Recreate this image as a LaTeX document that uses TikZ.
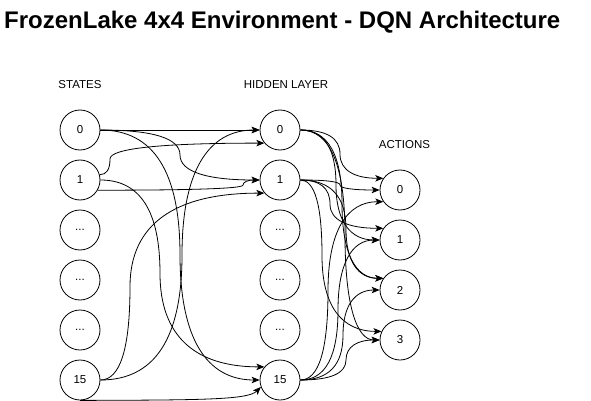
\documentclass[tikz,border=0pt]{standalone}
\usepackage{fontspec}
\setmainfont{Liberation Sans}
\usetikzlibrary{arrows.meta,calc}
\newcommand\qedge[4][]{%
  \draw[conn,#1] let \p1=(#2), \p2=(#4), \p3=(#3,0) in
    (\p1) .. controls ({(\x1+2*\x3)/3},\y1) and (\x3,{(5*\y1+\y2)/6}) .. (\x3,{(\y1+\y2)/2})
          .. controls (\x3,{(\y1+5*\y2)/6}) and ({(\x2+2*\x3)/3},\y2) .. (\p2);}
\begin{document}
\begin{tikzpicture}[x=1pt,y=-1pt,
  neuron/.style={circle,draw,line width=0.8pt,minimum size=40pt,inner sep=0pt,font=\fontsize{11.5}{13}\selectfont},
  lbl/.style={font=\fontsize{11.5}{13}\selectfont,inner sep=0pt},
  conn/.style={line width=0.8pt,-{Stealth[length=8pt,width=6.5pt,inset=2pt]}}]
\useasboundingbox[fill=white] (0,0) rectangle (591,401);
\node[anchor=base west,font=\bfseries\fontsize{24}{28}\selectfont,inner sep=0pt] (title) at (4,29) {FrozenLake 4x4 Environment - DQN Architecture};
\node[lbl] (lstates) at (80,85) {STATES};
\node[lbl] (lhidden) at (286,85) {HIDDEN LAYER};
\node[lbl] (lactions) at (404.5,145) {ACTIONS};
% states
\node[neuron] (s0) at (80,130) {0};
\node[neuron] (s1) at (80,180) {1};
\node[neuron] (s2) at (80,230) {...};
\node[neuron] (s3) at (80,280) {...};
\node[neuron] (s4) at (80,330) {...};
\node[neuron] (s15) at (80,380) {15};
% hidden
\node[neuron] (h0) at (280,130) {0};
\node[neuron] (h1) at (280,180) {1};
\node[neuron] (h2) at (280,230) {...};
\node[neuron] (h3) at (280,280) {...};
\node[neuron] (h4) at (280,330) {...};
\node[neuron] (h15) at (280,380) {15};
% actions
\node[neuron] (a0) at (400,190) {0};
\node[neuron] (a1) at (400,240) {1};
\node[neuron] (a2) at (400,290) {2};
\node[neuron] (a3) at (400,340) {3};
% states -> hidden
\draw[conn] (s0.east) -- (h0.west);
\qedge{s0.east}{180}{h1.west}
\qedge{s0.east}{180}{h15.west}
\qedge{s1.15}{110}{h0.220}
\qedge{s1.-30}{243}{h1.west}
\qedge{s1.east}{160}{h15.140}
\qedge{s15.east}{182}{h0.west}
\qedge{s15.east}{130}{h1.220}
\draw[conn] (s15.south) .. controls (200,400) and (248,400) .. (h15.200);
% hidden -> actions
\qedge{h0.east}{340}{a0.145}
\qedge{h1.east}{340}{a0.west}
\qedge{h15.east}{328}{a0.215}
\qedge{h1.east}{330}{a1.145}
\qedge{h0.east}{336}{a1.west}
\qedge{h15.east}{338}{a1.west}
\qedge{h0.east}{342}{a2.145}
\qedge{h1.east}{346}{a2.145}
\qedge{h15.east}{343}{a2.west}
\qedge{h1.east}{322}{a3.155}
\qedge{h0.east}{345}{a3.west}
\qedge{h15.east}{346}{a3.west}
\end{tikzpicture}
\end{document}
